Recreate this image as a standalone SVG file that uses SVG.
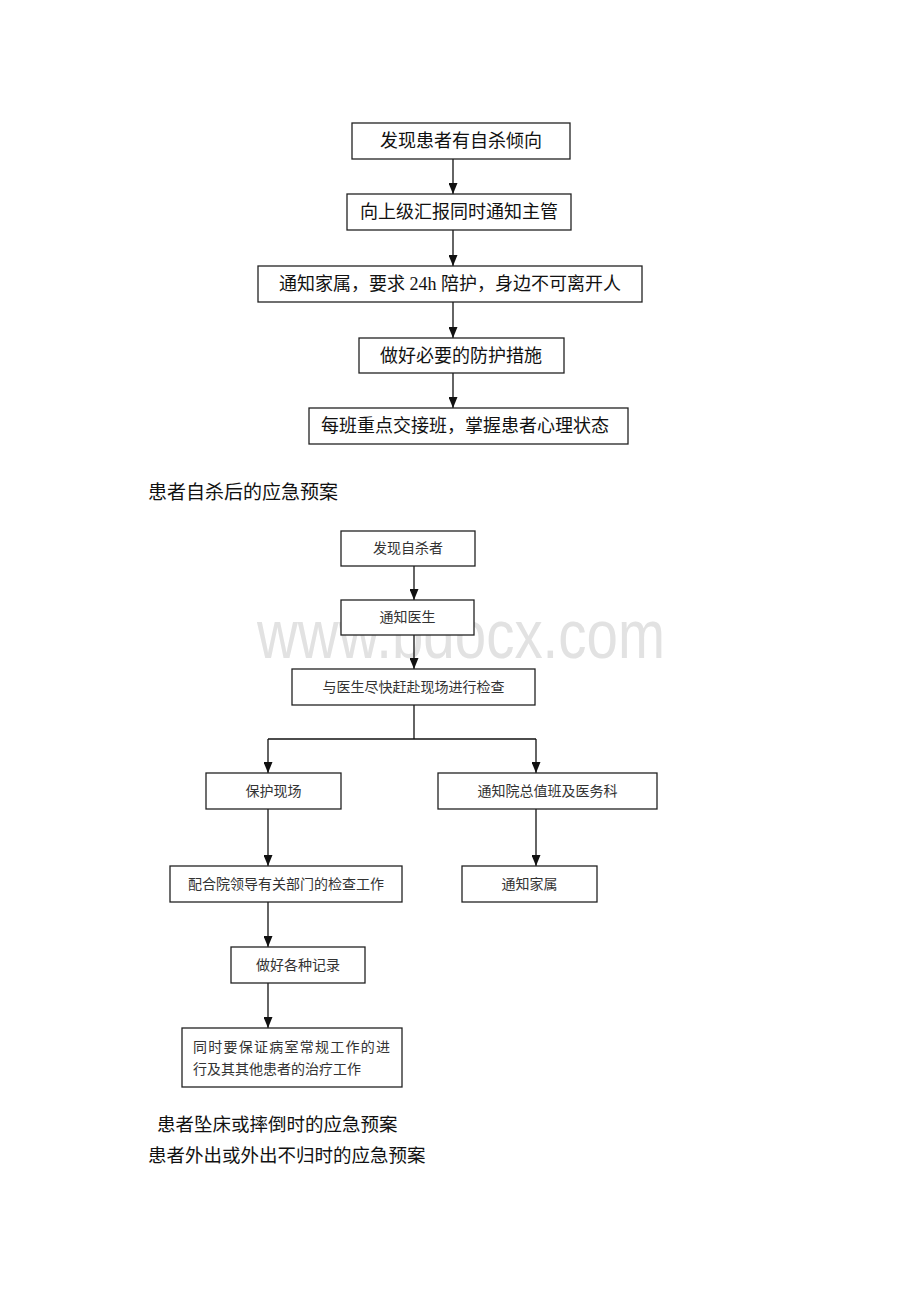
<svg xmlns="http://www.w3.org/2000/svg" width="920" height="1302" viewBox="0 0 920 1302">
  <defs>
    <marker id="arr" markerUnits="userSpaceOnUse" markerWidth="11" markerHeight="9" refX="11" refY="4.5" orient="auto">
      <path d="M0,0 L11,4.5 L0,9 z" fill="#111"/>
    </marker>
    <style>
      .box { fill: #fff; stroke: #222; stroke-width: 1.3; }
      .t1 { font-family: "Liberation Serif", "Noto Sans CJK SC", serif; font-size: 18px; fill: #111; text-anchor: middle; dominant-baseline: central; }
      .t2 { font-family: "Liberation Serif", "Noto Sans CJK SC", serif; font-size: 14px; fill: #333; text-anchor: middle; dominant-baseline: central; }
      .t2l { font-family: "Liberation Serif", "Noto Sans CJK SC", serif; font-size: 14px; fill: #333; dominant-baseline: central; }
      .h { font-family: "Liberation Serif", "Noto Sans CJK SC", serif; font-size: 18.5px; fill: #111; dominant-baseline: central; }
      .ln { stroke: #111; stroke-width: 1.3; fill: none; }
      .wm { font-family: "Liberation Sans", Arial, sans-serif; font-size: 68px; fill: #e2e2e2; }
    </style>
  </defs>
  <rect width="920" height="1302" fill="#fff"/>

  <!-- watermark -->
  <text class="wm" x="257" y="658" textLength="408" lengthAdjust="spacingAndGlyphs">www.bdocx.com</text>

  <!-- connectors -->
  <g id="connectors">
    <line class="ln" x1="453" y1="159" x2="453" y2="194" marker-end="url(#arr)"/>
    <line class="ln" x1="453" y1="230" x2="453" y2="266" marker-end="url(#arr)"/>
    <line class="ln" x1="453" y1="302" x2="453" y2="338" marker-end="url(#arr)"/>
    <line class="ln" x1="453" y1="373" x2="453" y2="408" marker-end="url(#arr)"/>

    <line class="ln" x1="414" y1="566" x2="414" y2="600" marker-end="url(#arr)"/>
    <line class="ln" x1="414" y1="635" x2="414" y2="669" marker-end="url(#arr)"/>
    <polyline class="ln" points="414,705 414,739"/>
    <polyline class="ln" points="268,739 536,739"/>
    <line class="ln" x1="268" y1="739" x2="268" y2="773" marker-end="url(#arr)"/>
    <line class="ln" x1="536" y1="739" x2="536" y2="773" marker-end="url(#arr)"/>
    <line class="ln" x1="268" y1="809" x2="268" y2="866" marker-end="url(#arr)"/>
    <line class="ln" x1="536" y1="809" x2="536" y2="866" marker-end="url(#arr)"/>
    <line class="ln" x1="268" y1="902" x2="268" y2="947" marker-end="url(#arr)"/>
    <line class="ln" x1="268" y1="983" x2="268" y2="1028" marker-end="url(#arr)"/>
  </g>

  <!-- top flowchart -->
  <g id="a1"><rect class="box" x="352" y="123" width="218" height="36"/><text class="t1" x="461" y="141">发现患者有自杀倾向</text></g>
  <g id="a2"><rect class="box" x="347" y="194" width="224" height="36"/><text class="t1" x="459" y="212">向上级汇报同时通知主管</text></g>
  <g id="a3"><rect class="box" x="258" y="266" width="384" height="36"/><text class="t1" x="450" y="284">通知家属，要求 24h 陪护，身边不可离开人</text></g>
  <g id="a4"><rect class="box" x="359" y="338" width="205" height="35"/><text class="t1" x="461" y="355.5">做好必要的防护措施</text></g>
  <g id="a5"><rect class="box" x="309" y="408" width="319" height="36"/><text class="t1" x="465" y="426">每班重点交接班，掌握患者心理状态</text></g>

  <g id="title1"><text class="h" x="148" y="492" style="font-size:19px">患者自杀后的应急预案</text></g>

  <!-- second flowchart -->
  <g id="b1"><rect class="box" x="341" y="531" width="134" height="35"/><text class="t2" x="408" y="548.5">发现自杀者</text></g>
  <g id="b2"><rect class="box" x="341" y="600" width="133" height="35"/><text class="t2" x="407.5" y="617.5">通知医生</text></g>
  <g id="b3"><rect class="box" x="292" y="669" width="243" height="36"/><text class="t2" x="413.5" y="687">与医生尽快赶赴现场进行检查</text></g>
  <g id="b4"><rect class="box" x="206" y="773" width="135" height="36"/><text class="t2" x="273.5" y="791">保护现场</text></g>
  <g id="b5"><rect class="box" x="438" y="773" width="219" height="36"/><text class="t2" x="547.5" y="791">通知院总值班及医务科</text></g>
  <g id="b6"><rect class="box" x="170" y="866" width="232" height="36"/><text class="t2" x="286" y="884">配合院领导有关部门的检查工作</text></g>
  <g id="b7"><rect class="box" x="462" y="866" width="135" height="36"/><text class="t2" x="529.5" y="884">通知家属</text></g>
  <g id="b8"><rect class="box" x="231" y="947" width="134" height="36"/><text class="t2" x="298" y="965">做好各种记录</text></g>
  <g id="b9"><rect class="box" x="182" y="1028" width="220" height="59"/>
    <text class="t2l" x="193" y="1047" textLength="197" lengthAdjust="spacing">同时要保证病室常规工作的进</text>
    <text class="t2l" x="193" y="1069">行及其其他患者的治疗工作</text>
  </g>

  <g id="title2"><text class="h" x="157" y="1125">患者坠床或摔倒时的应急预案</text></g>
  <g id="title3"><text class="h" x="148" y="1156">患者外出或外出不归时的应急预案</text></g>
</svg>
